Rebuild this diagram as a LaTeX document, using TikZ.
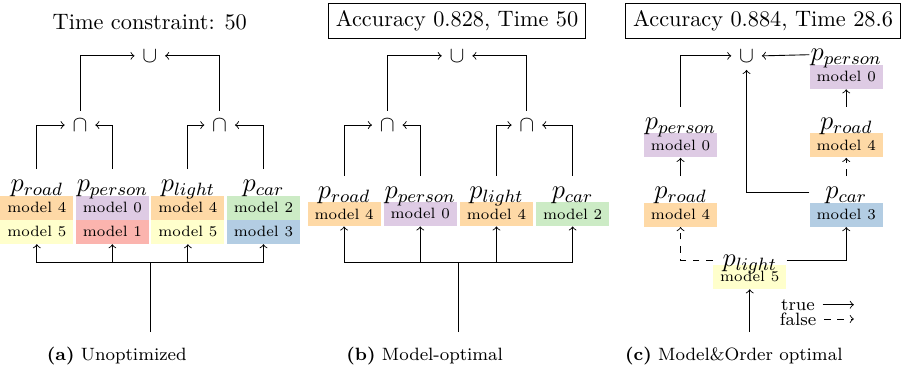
\documentclass[tikz,border=0pt]{standalone}
\usetikzlibrary{positioning}

\definecolor{mzero}{HTML}{DECBE4}
\definecolor{mone}{HTML}{FBB4AE}
\definecolor{mtwo}{HTML}{CCEBC5}
\definecolor{mthree}{HTML}{B3CDE3}
\definecolor{mfour}{HTML}{FED9A6}
\definecolor{mfive}{HTML}{FFFFCC}

\tikzset{
    modelbox/.style={minimum width=1.15cm, minimum height=0.38cm, inner sep=0pt, font=\fontsize{6.7}{8}\selectfont},
    plabel/.style={font=\large, minimum width=1.15cm, inner xsep=0pt, inner ysep=1.5pt, text height=8.4pt, text depth=2.8pt},
    setop/.style={inner sep=3.33pt},
    subcap/.style={font=\footnotesize},
    legend/.style={font=\footnotesize, inner ysep=0.5pt, text height=1.5ex, text depth=0.25ex}
}

\begin{document}
\begin{tikzpicture}
        \useasboundingbox (0,0) rectangle (14.24,5.86);

        \node (timea) at (2.36,5.51) {Time constraint: 50};
        \node[setop] (cupa) at (2.36,4.98) {$\cup$};
        \node[setop] (capal) at (1.26,3.89) {$\cap$};
        \node[setop] (capar) at (3.46,3.89) {$\cap$};

        \node[modelbox, fill=mfour] (roada1) at (0.58,2.59) {model 4};
        \node[modelbox, fill=mfive] (roada2) at (0.58,2.21) {model 5};
        \node[modelbox, fill=mzero] (persona1) at (1.77,2.59) {model 0};
        \node[modelbox, fill=mone] (persona2) at (1.77,2.21) {model 1};
        \node[modelbox, fill=mfour] (lighta1) at (2.96,2.59) {model 4};
        \node[modelbox, fill=mfive] (lighta2) at (2.96,2.21) {model 5};
        \node[modelbox, fill=mtwo] (cara1) at (4.15,2.59) {model 2};
        \node[modelbox, fill=mthree] (cara2) at (4.15,2.21) {model 3};

        \node[plabel, above=-3pt of roada1] (lroada) {$p_{road}$};
        \node[plabel, above=-3pt of persona1] (lpersona) {$p_{person}$};
        \node[plabel, above=-3pt of lighta1] (llighta) {$p_{light}$};
        \node[plabel, above=-3pt of cara1] (lcara) {$p_{car}$};

        \draw[->] (lroada.north) |- (capal.west);
        \draw[->] (lpersona.north) |- (capal.east);
        \draw[->] (llighta.north) |- (capar.west);
        \draw[->] (lcara.north) |- (capar.east);
        \draw[->] (capal.north) |- (cupa.west);
        \draw[->] (capar.north) |- (cupa.east);

        \coordinate (ina) at (2.365,0.63);
        \coordinate (splita) at (2.365,1.72);
        \draw (ina) -- (splita);
        \draw[->] (splita) -| (roada2.south);
        \draw[->] (splita) -| (persona2.south);
        \draw[->] (splita) -| (lighta2.south);
        \draw[->] (splita) -| (cara2.south);

        \node[subcap] (suba) at (1.84,0.25) {\textbf{(a)} Unoptimized};

        \node[draw] (resultb) at (7.2,5.53) {Accuracy 0.828, Time 50};
        \node[setop] (cupb) at (7.2,4.98) {$\cup$};
        \node[setop] (capbl) at (6.1,3.89) {$\cap$};
        \node[setop] (capbr) at (8.3,3.89) {$\cap$};

        \node[modelbox, fill=mfour] (roadb) at (5.42,2.49) {model 4};
        \node[modelbox, fill=mzero] (personb) at (6.62,2.49) {model 0};
        \node[modelbox, fill=mfour] (lightb) at (7.82,2.49) {model 4};
        \node[modelbox, fill=mtwo] (carb) at (9.02,2.49) {model 2};

        \node[plabel, above=-3pt of roadb] (lroadb) {$p_{road}$};
        \node[plabel, above=-3pt of personb] (lpersonb) {$p_{person}$};
        \node[plabel, above=-3pt of lightb] (llightb) {$p_{light}$};
        \node[plabel, above=-3pt of carb] (lcarb) {$p_{car}$};

        \draw[->] (lroadb.north) |- (capbl.west);
        \draw[->] (lpersonb.north) |- (capbl.east);
        \draw[->] (llightb.north) |- (capbr.west);
        \draw[->] (lcarb.north) |- (capbr.east);
        \draw[->] (capbl.north) |- (cupb.west);
        \draw[->] (capbr.north) |- (cupb.east);

        \coordinate (inb) at (7.22,0.63);
        \coordinate (splitb) at (7.22,1.72);
        \draw (inb) -- (splitb);
        \draw[->] (splitb) -| (roadb.south);
        \draw[->] (splitb) -| (personb.south);
        \draw[->] (splitb) -| (lightb.south);
        \draw[->] (splitb) -| (carb.south);

        \node[subcap] (subb) at (6.69,0.25) {\textbf{(b)} Model-optimal};

        \node[draw] (resultc) at (12.02,5.53) {Accuracy 0.884, Time 28.6};
        \node[setop] (cupc) at (11.76,4.98) {$\cup$};

        \node[modelbox, fill=mzero] (personc1) at (10.72,3.57) {model 0};
        \node[modelbox, fill=mfour] (roadc1) at (10.72,2.48) {model 4};
        \node[modelbox, fill=mzero] (personc2) at (13.33,4.65) {model 0};
        \node[modelbox, fill=mfour] (roadc2) at (13.33,3.57) {model 4};
        \node[modelbox, fill=mthree] (carc) at (13.33,2.48) {model 3};
        \node[modelbox, fill=mfive] (lightc) at (11.81,1.50) {model 5};

        \node[plabel, above=-3pt of personc1] (lpersonc1) {$p_{person}$};
        \node[plabel, above=-3pt of roadc1] (lroadc1) {$p_{road}$};
        \node[plabel, above=-3pt of personc2] (lpersonc2) {$p_{person}$};
        \node[plabel, above=-3pt of roadc2] (lroadc2) {$p_{road}$};
        \node[plabel, above=-3pt of carc] (lcarc) {$p_{car}$};
        \node[plabel, above=-5.65pt of lightc] (llightc) {$p_{light}$};

        \draw[->] (lpersonc1.north) |- (cupc.west);
        \draw[->] (lroadc1.north) -- (personc1.south);
        \draw[->, dashed] (llightc.west) -| (roadc1.south);
        \draw[->] (llightc.east) -| (carc.south);
        \draw[->] (lcarc.west) -| (cupc.south);
        \draw[->, dashed] (lcarc.north) -- (roadc2.south);
        \draw[->] (lroadc2.north) -- (personc2.south);
        \draw[->] (lpersonc2.west) -- (cupc.east);

        \coordinate (inc) at (11.81,0.63);
        \draw[->] (inc) -- (lightc.south);

        \node[legend] (truec) at (12.57,1.06) {true};
        \node[legend] (falsec) at (12.57,0.835) {false};
        \coordinate (trueend) at (13.45,1.06);
        \coordinate (falseend) at (13.45,0.835);
        \draw[->] (truec) -- (trueend);
        \draw[->, dashed] (falsec) -- (falseend);

        \node[subcap] (subc) at (11.56,0.25) {\textbf{(c)} Model\&Order optimal};
\end{tikzpicture}
\end{document}
